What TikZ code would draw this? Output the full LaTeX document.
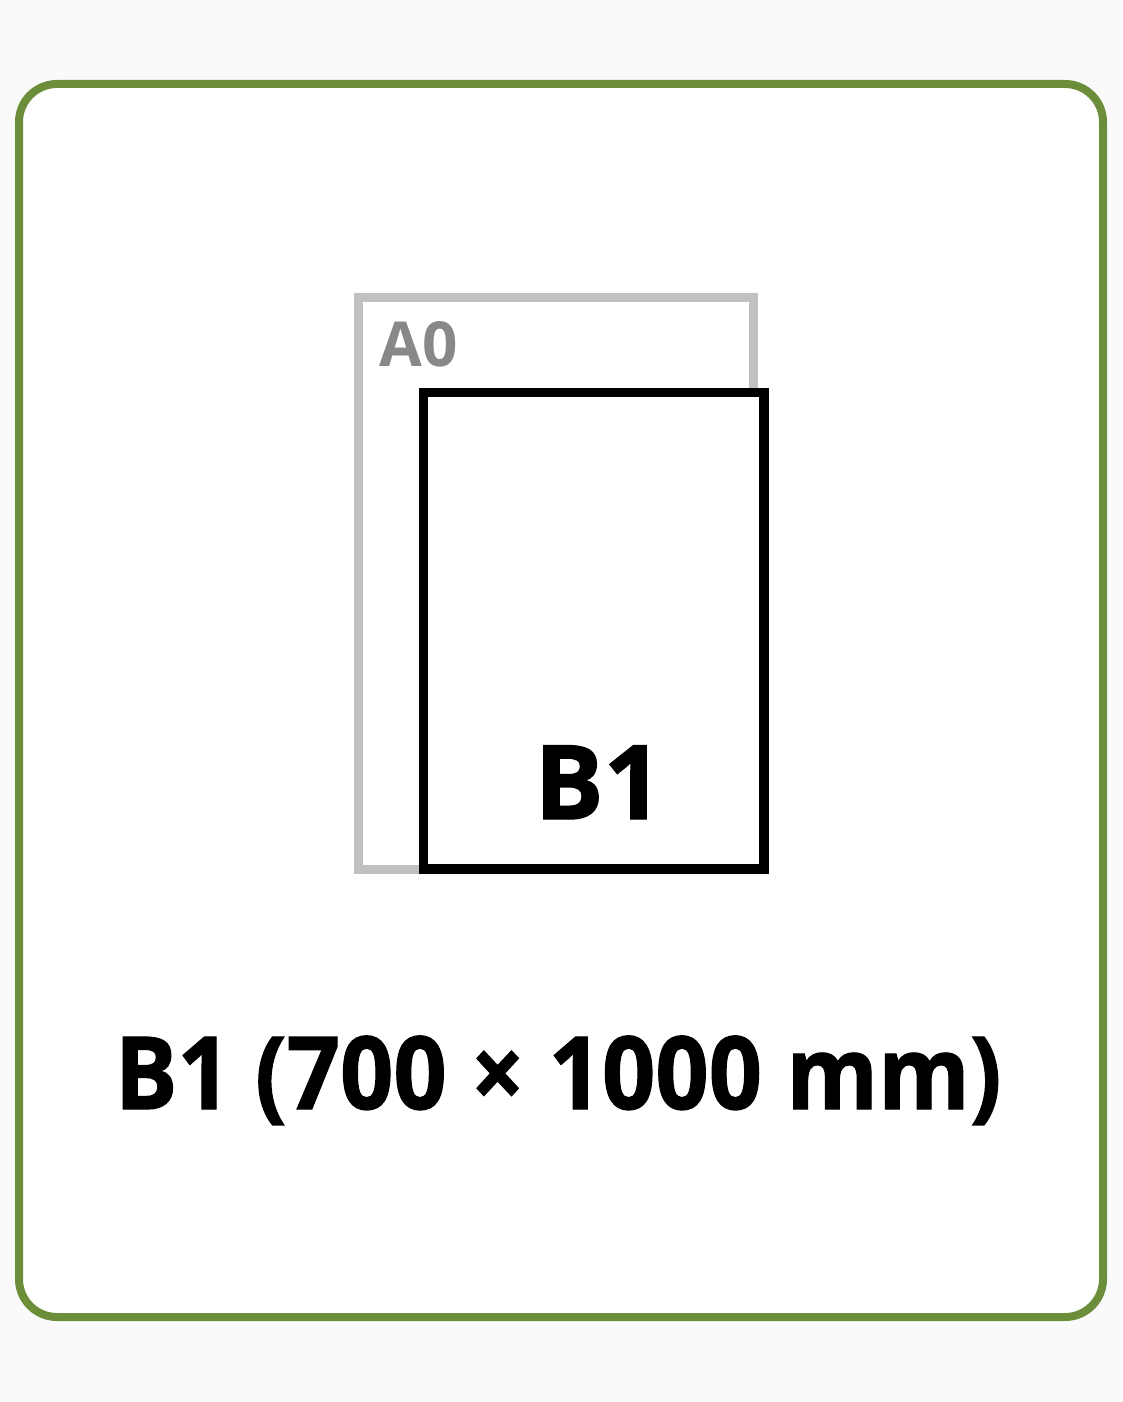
\documentclass[tikz,border=0pt]{standalone}
\usepackage{fontspec}
\setmainfont{Open Sans}
\newfontfamily\heavyfont{Open Sans}[UprightFont={* Bold}, UprightFeatures={FakeBold=1.2}]
\definecolor{framegreen}{RGB}{108,142,58}
\definecolor{sheetgray}{RGB}{192,192,192}
\definecolor{labelgray}{RGB}{136,136,136}
\definecolor{bg}{RGB}{250,250,250}
\tikzset{
  sheet/.style={draw, rectangle, inner sep=0pt, outer sep=0pt},
  lbl/.style={inner sep=0pt, anchor=base, font=\bfseries}
}
\begin{document}
\begin{tikzpicture}[x=1pt, y=-1pt]
\useasboundingbox (0,0) rectangle (1122,1402);
\fill[bg] (0,0) rectangle (1122,1402);
\draw[framegreen, line width=8pt, rounded corners=38pt, fill=white] (19,84) rectangle (1103,1317);
\node[sheet, sheetgray, line width=9pt, minimum width=395pt, minimum height=571.5pt] (a0) at (556,583.25) {};
\node[lbl, text=labelgray, font=\fontsize{62}{62}\bfseries\selectfont] (a0lbl) at (418.5,366) {A0};
\node[sheet, black, fill=white, line width=9.5pt, minimum width=340.5pt, minimum height=476.5pt] (b1) at (593.75,630.75) {};
\node[lbl, font=\fontsize{103}{103}\heavyfont\selectfont] (b1lbl) at (598.5,819) {B1};
\node[lbl, font=\fontsize{101}{101}\heavyfont\selectfont, transform shape, xscale=0.925] (caption) at (558,1109) {B1 (700 × 1000 mm)};
\end{tikzpicture}
\end{document}
